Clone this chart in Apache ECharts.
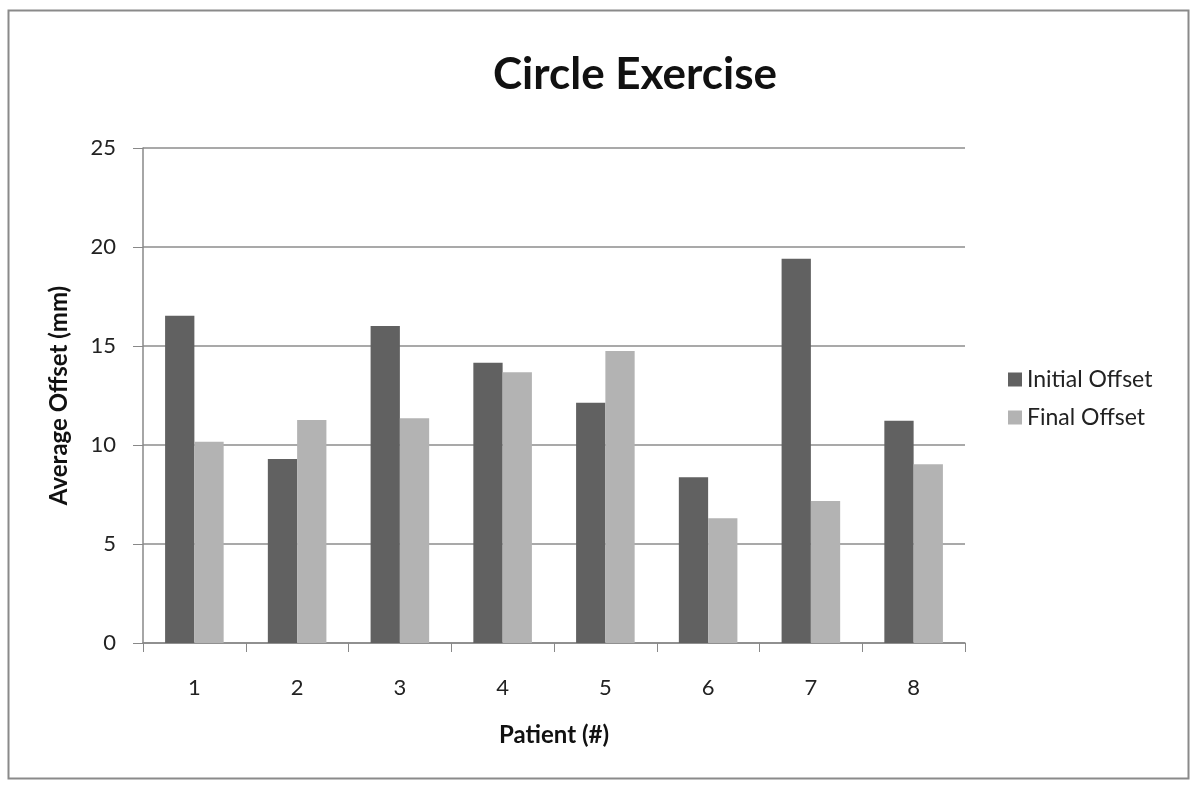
<!DOCTYPE html>
<html><head><meta charset="utf-8">
<script src="https://cdn.jsdelivr.net/npm/echarts@6/dist/echarts.min.js"></script>
<style>html,body{margin:0;padding:0;background:#fff}#c{width:1200px;height:790px}</style>
</head><body><div id="c"></div>
<script>
const categories = ['1','2','3','4','5','6','7','8'];
const initialOffset = [16.53, 9.29, 16.01, 14.16, 12.14, 8.37, 19.41, 11.23];
const finalOffset = [10.17, 11.26, 11.35, 13.67, 14.75, 6.3, 7.17, 9.03];
const seriesNames = ['Initial Offset', 'Final Offset'];
const FONT = 'Lato, "Open Sans", sans-serif';
const chart = echarts.init(document.getElementById('c'));
chart.setOption({
  animation: false,
  backgroundColor: '#fff',
  textStyle: { fontFamily: FONT },
  title: { text: 'Circle Exercise', left: 630, top: 48, textAlign: 'center',
    textStyle: { fontSize: 44, fontWeight: 'bold', color: '#111', fontFamily: FONT } },
  graphic: [{ type: 'rect', shape: { x: 8.5, y: 10.5, width: 1180, height: 768 },
    style: { fill: 'none', stroke: '#8a8a8a', lineWidth: 2 } }],
  legend: { orient: 'vertical', left: 1003, top: 363, itemWidth: 14, itemHeight: 14, itemGap: 15,
    icon: 'rect', textStyle: { fontSize: 23, color: '#222', fontFamily: FONT } },
  grid: { left: 143, right: 235, top: 148, bottom: 147 },
  xAxis: { type: 'category', data: categories,
    axisLine: { lineStyle: { color: '#888', width: 1.5 } },
    axisTick: { show: true, length: 9, lineStyle: { color: '#888' } },
    axisLabel: { fontSize: 22, color: '#222', margin: 34 },
    name: 'Patient (#)', nameLocation: 'middle', nameGap: 80,
    nameTextStyle: { fontSize: 24, fontWeight: 'bold', color: '#111' } },
  yAxis: { type: 'value', min: 0, max: 25, interval: 5,
    axisLine: { show: true, lineStyle: { color: '#888', width: 1.5 } },
    axisTick: { show: true, length: 10, lineStyle: { color: '#888' } },
    splitLine: { lineStyle: { color: '#8c8c8c', width: 1.5 } },
    axisLabel: { fontSize: 22, color: '#222', margin: 27 },
    name: 'Average Offset (mm)', nameLocation: 'middle', nameGap: 72, nameRotate: 90,
    nameTextStyle: { fontSize: 24, fontWeight: 'bold', color: '#111' } },
  series: [
    { name: seriesNames[0], type: 'bar', data: initialOffset, barGap: '0%', barCategoryGap: '43%',
      itemStyle: { color: '#616161' } },
    { name: seriesNames[1], type: 'bar', data: finalOffset,
      itemStyle: { color: '#b3b3b3' } }
  ]
});
</script></body></html>
